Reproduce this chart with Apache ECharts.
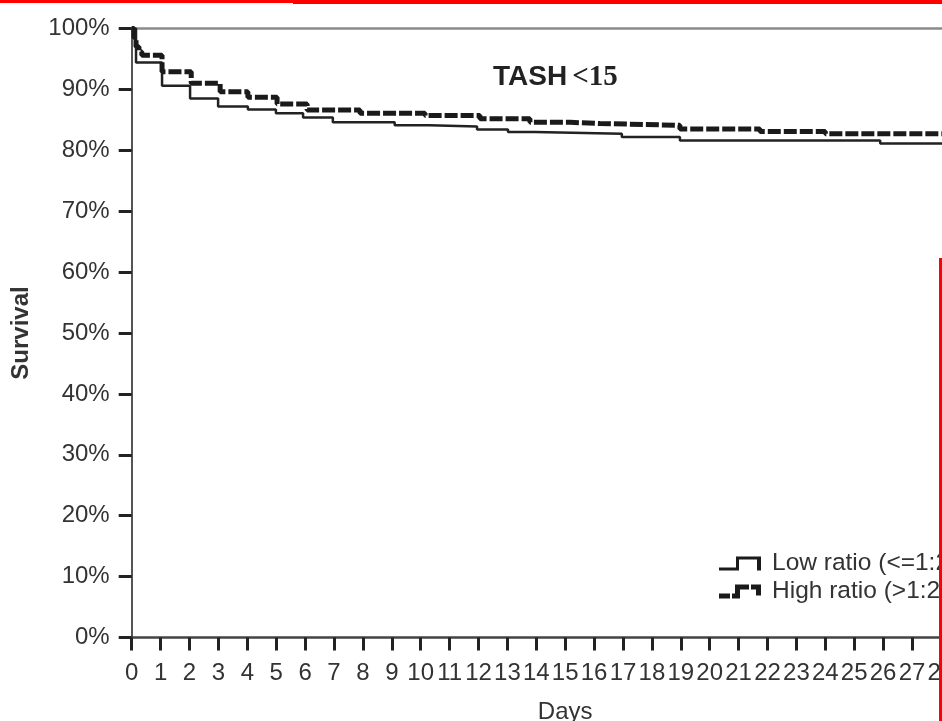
<!DOCTYPE html>
<html>
<head>
<meta charset="utf-8">
<title>TASH &lt;15</title>
<script src="https://cdn.jsdelivr.net/npm/echarts@6/dist/echarts.min.js"></script>
<style>
  html, body { margin: 0; padding: 0; background: #fff; }
  #chart { width: 942px; height: 721px; }
</style>
</head>
<body>
<div id="chart"></div>
<script>
// step points: [day, survival %]
var lowRatio = [
  [0, 100], [0.15, 94.4], [1.05, 90.6], [2.02, 88.5], [2.99, 87.2], [4.02, 86.7],
  [4.99, 86.1], [5.93, 85.4], [6.96, 84.6], [9.1, 84.1], [10.3, 83.9], [11.95, 83.4],
  [13.02, 83.0], [13.95, 82.7], [16.96, 82.2], [18.97, 81.6], [25.9, 81.1], [30, 81.1]
]
var highRatio = [
  [0, 100], [0.08, 98.5], [0.15, 97.0], [0.25, 96.2], [0.35, 95.6], [1.05, 92.9],
  [2.06, 91.0], [3.06, 89.6], [4.02, 88.7], [5.03, 87.6], [6.07, 86.6], [7.9, 86.1],
  [10.15, 85.7], [12.05, 85.2], [13.78, 84.6], [15.17, 84.4], [16.2, 84.1], [18.97, 83.5],
  [21.74, 83.1], [24.0, 82.7], [30, 82.6]
]
var seriesNames = ['Low ratio (<=1:2)', 'High ratio (>1:2)']

var lowIcon = 'path://M0 11h20v3h-20z M17 0h3v11h-3z M20 0h22v3h-22z M38 3h4v11h-4z'
var highIcon = 'path://M0 9h11v5h-11z M13 9h8v5h-8z M16 0h5v9h-5z M21 0h9v5h-9z M32 0h10v5h-10z M37 5h5v6h-5z'

var chart = echarts.init(document.getElementById('chart'))
chart.setOption({
  animation: false,
  backgroundColor: '#fff',
  textStyle: { fontFamily: 'Liberation Sans' },
  title: {
    text: '{b|TASH} {s|<15}',
    left: 493,
    top: 63,
    padding: 0,
    textStyle: {
      rich: {
        b: { fontFamily: 'Liberation Sans', fontWeight: 'bold', fontSize: 28, color: '#222' },
        s: { fontFamily: 'Liberation Serif', fontSize: 29, color: '#222' }
      }
    }
  },
  legend: {
    orient: 'vertical',
    left: 719,
    top: 551,
    padding: 0,
    itemWidth: 42,
    itemHeight: 14,
    itemGap: 3,
    selectedMode: false,
    itemStyle: { color: '#1a1a1a', borderWidth: 0 },
    textStyle: { fontSize: 24.5, color: '#333', padding: [0, 0, 0, 6] },
    data: [
      { name: seriesNames[0], icon: lowIcon },
      { name: seriesNames[1], icon: highIcon }
    ]
  },
  grid: { left: 131.7, top: 28.5, width: 867, height: 609, outerBoundsMode: 'none' },
  xAxis: [{
    type: 'value',
    min: 0,
    max: 30,
    interval: 1,
    name: 'Days',
    nameLocation: 'middle',
    nameGap: 63,
    nameTextStyle: { fontSize: 24, color: '#333' },
    axisLine: { lineStyle: { color: '#444', width: 2.5 } },
    axisTick: { length: 13, lineStyle: { color: '#222', width: 3 } },
    axisLabel: { interval: 0, fontSize: 24, color: '#333', margin: 24 },
    splitLine: { show: false }
  }, {
    type: 'value',
    position: 'top',
    min: 0,
    max: 30,
    axisLine: { lineStyle: { color: '#8a8a8a', width: 2.5 } },
    axisTick: { show: false },
    axisLabel: { show: false },
    splitLine: { show: false }
  }],
  yAxis: {
    type: 'value',
    min: 0,
    max: 100,
    interval: 10,
    name: 'Survival',
    nameLocation: 'middle',
    nameRotate: 90,
    nameGap: 98,
    nameTextStyle: { fontSize: 24, fontWeight: 'bold', color: '#333' },
    axisLine: { show: true, lineStyle: { color: '#555', width: 2 } },
    axisTick: { length: 13, lineStyle: { color: '#222', width: 3 } },
    axisLabel: { formatter: '{value}%', fontSize: 24, color: '#333', margin: 22 },
    splitLine: { show: false }
  },
  series: [{
    name: seriesNames[0],
    type: 'line',
    step: 'end',
    symbol: 'none',
    data: lowRatio,
    lineStyle: { color: '#222', width: 2.5 },
    itemStyle: { color: '#1a1a1a' },
    z: 3
  }, {
    name: seriesNames[1],
    type: 'line',
    step: 'end',
    symbol: 'none',
    data: highRatio,
    lineStyle: { color: '#1a1a1a', width: 5, type: [13, 3] },
    itemStyle: { color: '#1a1a1a' },
    z: 4
  }],
  // red crop marks on the scan
  graphic: [
    { type: 'rect', z: 100, shape: { x: 0, y: 0, width: 942, height: 3 }, style: { fill: '#ff0000' } },
    { type: 'rect', z: 100, shape: { x: 293, y: 0, width: 649, height: 4 }, style: { fill: '#ff0000' } },
    { type: 'rect', z: 100, shape: { x: 939, y: 258, width: 3, height: 463 }, style: { fill: '#ff0000' } }
  ]
})
</script>
</body>
</html>
